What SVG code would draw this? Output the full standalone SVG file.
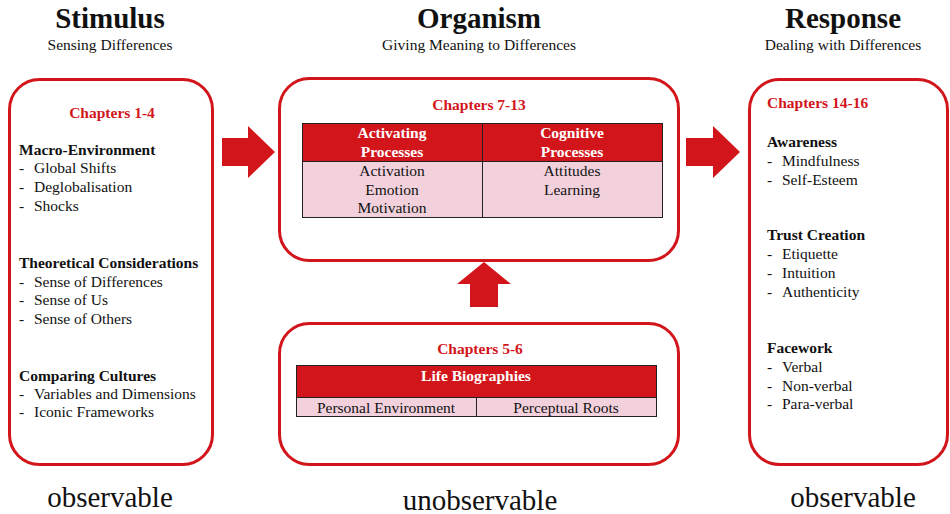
<svg xmlns="http://www.w3.org/2000/svg" width="950" height="514" viewBox="0 0 950 514">
<style>
text{font-family:"Liberation Serif","Times New Roman",serif;fill:#111}
.t{font-size:29px;font-weight:bold;text-anchor:middle}
.s{font-size:15.5px;text-anchor:middle}
.o{font-size:29px;text-anchor:middle}
.b{font-size:15.5px}
.h{font-size:15.5px;font-weight:bold}
.ch{font-size:15.5px;font-weight:bold;fill:#d2151b}
.wh{font-size:15.5px;font-weight:bold;fill:#fff;text-anchor:middle}
.c{text-anchor:middle}
.box{fill:#fff;stroke:#d2151b;stroke-width:3}
.hdr{fill:#d2151b;stroke:#222;stroke-width:1}
.cell{fill:#f2d1dd;stroke:#222;stroke-width:1}
.arr{fill:#d2151b}
</style>
<g id="titles">
<text class="t" x="110" y="28">Stimulus</text>
<text class="s" x="110" y="50">Sensing Differences</text>
<text class="t" x="479" y="28">Organism</text>
<text class="s" x="479" y="50">Giving Meaning to Differences</text>
<text class="t" x="843" y="28">Response</text>
<text class="s" x="843" y="50">Dealing with Differences</text>
<text class="o" x="110" y="507">observable</text>
<text class="o" x="480" y="510">unobservable</text>
<text class="o" x="853" y="507">observable</text>
</g>
<g id="stimulus">
<rect class="box" x="9.5" y="79.5" width="203" height="385" rx="30"/>
<text class="ch c" x="112" y="118">Chapters 1-4</text>
<text class="h" x="19" y="155">Macro-Environment</text>
<text class="b" x="19" y="173">-</text><text class="b" x="34" y="173">Global Shifts</text>
<text class="b" x="19" y="192">-</text><text class="b" x="34" y="192">Deglobalisation</text>
<text class="b" x="19" y="211">-</text><text class="b" x="34" y="211">Shocks</text>
<text class="h" x="19" y="268">Theoretical Considerations</text>
<text class="b" x="19" y="287">-</text><text class="b" x="34" y="287">Sense of Differences</text>
<text class="b" x="19" y="305">-</text><text class="b" x="34" y="305">Sense of Us</text>
<text class="b" x="19" y="324">-</text><text class="b" x="34" y="324">Sense of Others</text>
<text class="h" x="19" y="381">Comparing Cultures</text>
<text class="b" x="19" y="399">-</text><text class="b" x="34" y="399">Variables and Dimensions</text>
<text class="b" x="19" y="417">-</text><text class="b" x="34" y="417">Iconic Frameworks</text>
</g>
<g id="organism">
<rect class="box" x="279.5" y="78.5" width="399" height="182" rx="30"/>
<text class="ch c" x="479" y="110">Chapters 7-13</text>
<rect class="hdr" x="302.5" y="123.5" width="180" height="38"/>
<rect class="hdr" x="482.5" y="123.5" width="180" height="38"/>
<rect class="cell" x="302.5" y="161.5" width="180" height="56"/>
<rect class="cell" x="482.5" y="161.5" width="180" height="56"/>
<text class="wh" x="392" y="138">Activating</text>
<text class="wh" x="392" y="157">Processes</text>
<text class="wh" x="572" y="138">Cognitive</text>
<text class="wh" x="572" y="157">Processes</text>
<text class="b c" x="392" y="176">Activation</text>
<text class="b c" x="392" y="195">Emotion</text>
<text class="b c" x="392" y="213">Motivation</text>
<text class="b c" x="572" y="176">Attitudes</text>
<text class="b c" x="572" y="195">Learning</text>
</g>
<g id="life">
<rect class="box" x="279.5" y="323.5" width="399" height="141" rx="30"/>
<text class="ch c" x="480" y="354">Chapters 5-6</text>
<rect class="hdr" x="296.5" y="365.5" width="360" height="32"/>
<rect class="cell" x="296.5" y="397.5" width="180" height="19"/>
<rect class="cell" x="476.5" y="397.5" width="180" height="19"/>
<text class="wh" x="476" y="381">Life Biographies</text>
<text class="b c" x="386" y="413">Personal Environment</text>
<text class="b c" x="566" y="413">Perceptual Roots</text>
</g>
<g id="response">
<rect class="box" x="749.5" y="79.5" width="198" height="385" rx="30"/>
<text class="ch" x="767" y="108">Chapters 14-16</text>
<text class="h" x="767" y="147">Awareness</text>
<text class="b" x="767" y="166">-</text><text class="b" x="782" y="166">Mindfulness</text>
<text class="b" x="767" y="185">-</text><text class="b" x="782" y="185">Self-Esteem</text>
<text class="h" x="767" y="240">Trust Creation</text>
<text class="b" x="767" y="259">-</text><text class="b" x="782" y="259">Etiquette</text>
<text class="b" x="767" y="278">-</text><text class="b" x="782" y="278">Intuition</text>
<text class="b" x="767" y="297">-</text><text class="b" x="782" y="297">Authenticity</text>
<text class="h" x="767" y="353">Facework</text>
<text class="b" x="767" y="372">-</text><text class="b" x="782" y="372">Verbal</text>
<text class="b" x="767" y="391">-</text><text class="b" x="782" y="391">Non-verbal</text>
<text class="b" x="767" y="409">-</text><text class="b" x="782" y="409">Para-verbal</text>
</g>
<g id="connectors">
<polygon class="arr" points="222,138 248,138 248,126 275,152 248,178 248,166 222,166"/>
<polygon class="arr" points="686,138 713,138 713,126 740,152 713,178 713,166 686,166"/>
<polygon class="arr" points="470,307 470,284 457,284 484,262 511,284 498,284 498,307"/>
</g>
</svg>
